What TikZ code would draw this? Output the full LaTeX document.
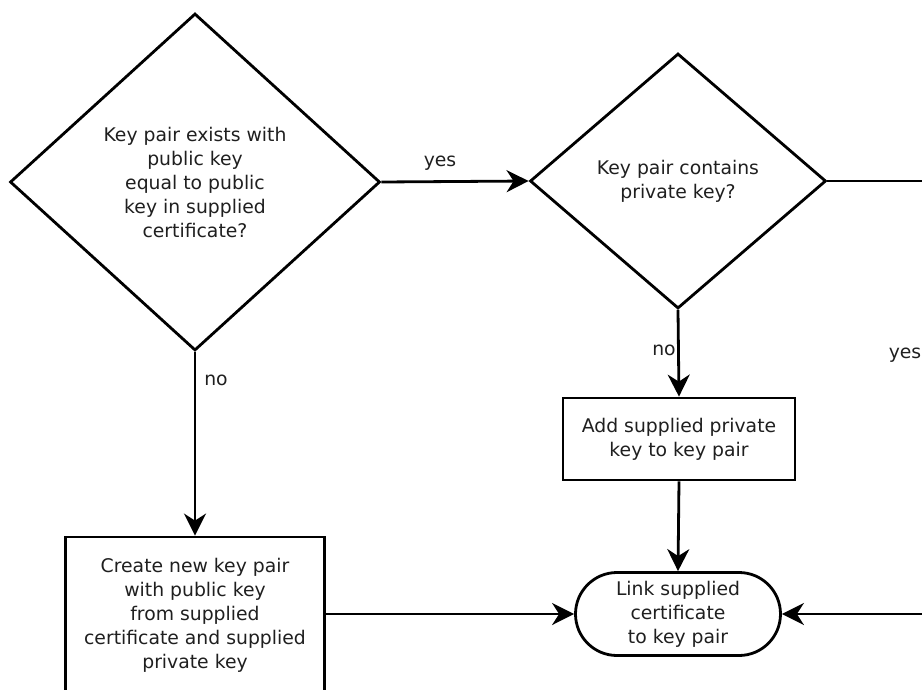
\documentclass[tikz,border=0pt]{standalone}
\usepackage{fontspec}
\setmainfont{DejaVu Sans}
\usetikzlibrary{shapes.geometric,shapes.misc,arrows.meta}
\begin{document}
\begin{tikzpicture}[x=1pt,y=-1pt,
  txt/.style={font=\fontsize{18.8}{24}\selectfont, text=black!88, align=center},
  decision/.style={draw, diamond, line width=2.8pt, inner sep=0pt, txt},
  procbox/.style={draw, rectangle, line width=2.8pt, inner sep=0pt, txt},
  termbox/.style={draw, rounded rectangle, line width=2.8pt, inner sep=0pt, txt},
  arr/.style={line width=2.8pt, -{Stealth[length=22pt,width=22pt,inset=7pt]}},
  lbl/.style={txt, inner sep=0pt}
]
\useasboundingbox (0,0) rectangle (922,689);
\clip (0,0) rectangle (922,689);

\node[decision, minimum width=370pt, minimum height=337pt] (d1) at (195,182)
  {Key pair exists with\\public key\\equal to public\\key in supplied\\certificate?};
\node[decision, minimum width=296pt, minimum height=255pt] (d2) at (678,181)
  {Key pair contains\\private key?};
\node[procbox, minimum width=232pt, minimum height=82pt] (add) at (679,439)
  {Add supplied private\\key to key pair};
\node[termbox, minimum width=205pt, minimum height=83pt] (link) at (678,614)
  {Link supplied\\certificate\\to key pair};
\node[procbox, minimum width=259pt, minimum height=156pt] (create) at (195,615)
  {Create new key pair\\with public key\\from supplied\\certificate and supplied\\private key};

\coordinate (r1) at (945,181);
\coordinate (r2) at (945,614);

\draw[arr] (d1.east) -- (d2.west);
\draw[arr] (d1.south) -- (create.north);
\draw[arr] (d2.south) -- (add.north);
\draw[arr] (add.south) -- (link.north);
\draw[arr] (create.east |- link.west) -- (link.west);
\draw[arr] (d2.east) -- (r1) -- (r2) -- (link.east);

\node[lbl] (yes1) at (440,163) {yes};
\node[lbl] (no1) at (216,380) {no};
\node[lbl] (no2) at (664,350) {no};
\node[lbl] (yes2) at (905,355) {yes};
\end{tikzpicture}
\end{document}
